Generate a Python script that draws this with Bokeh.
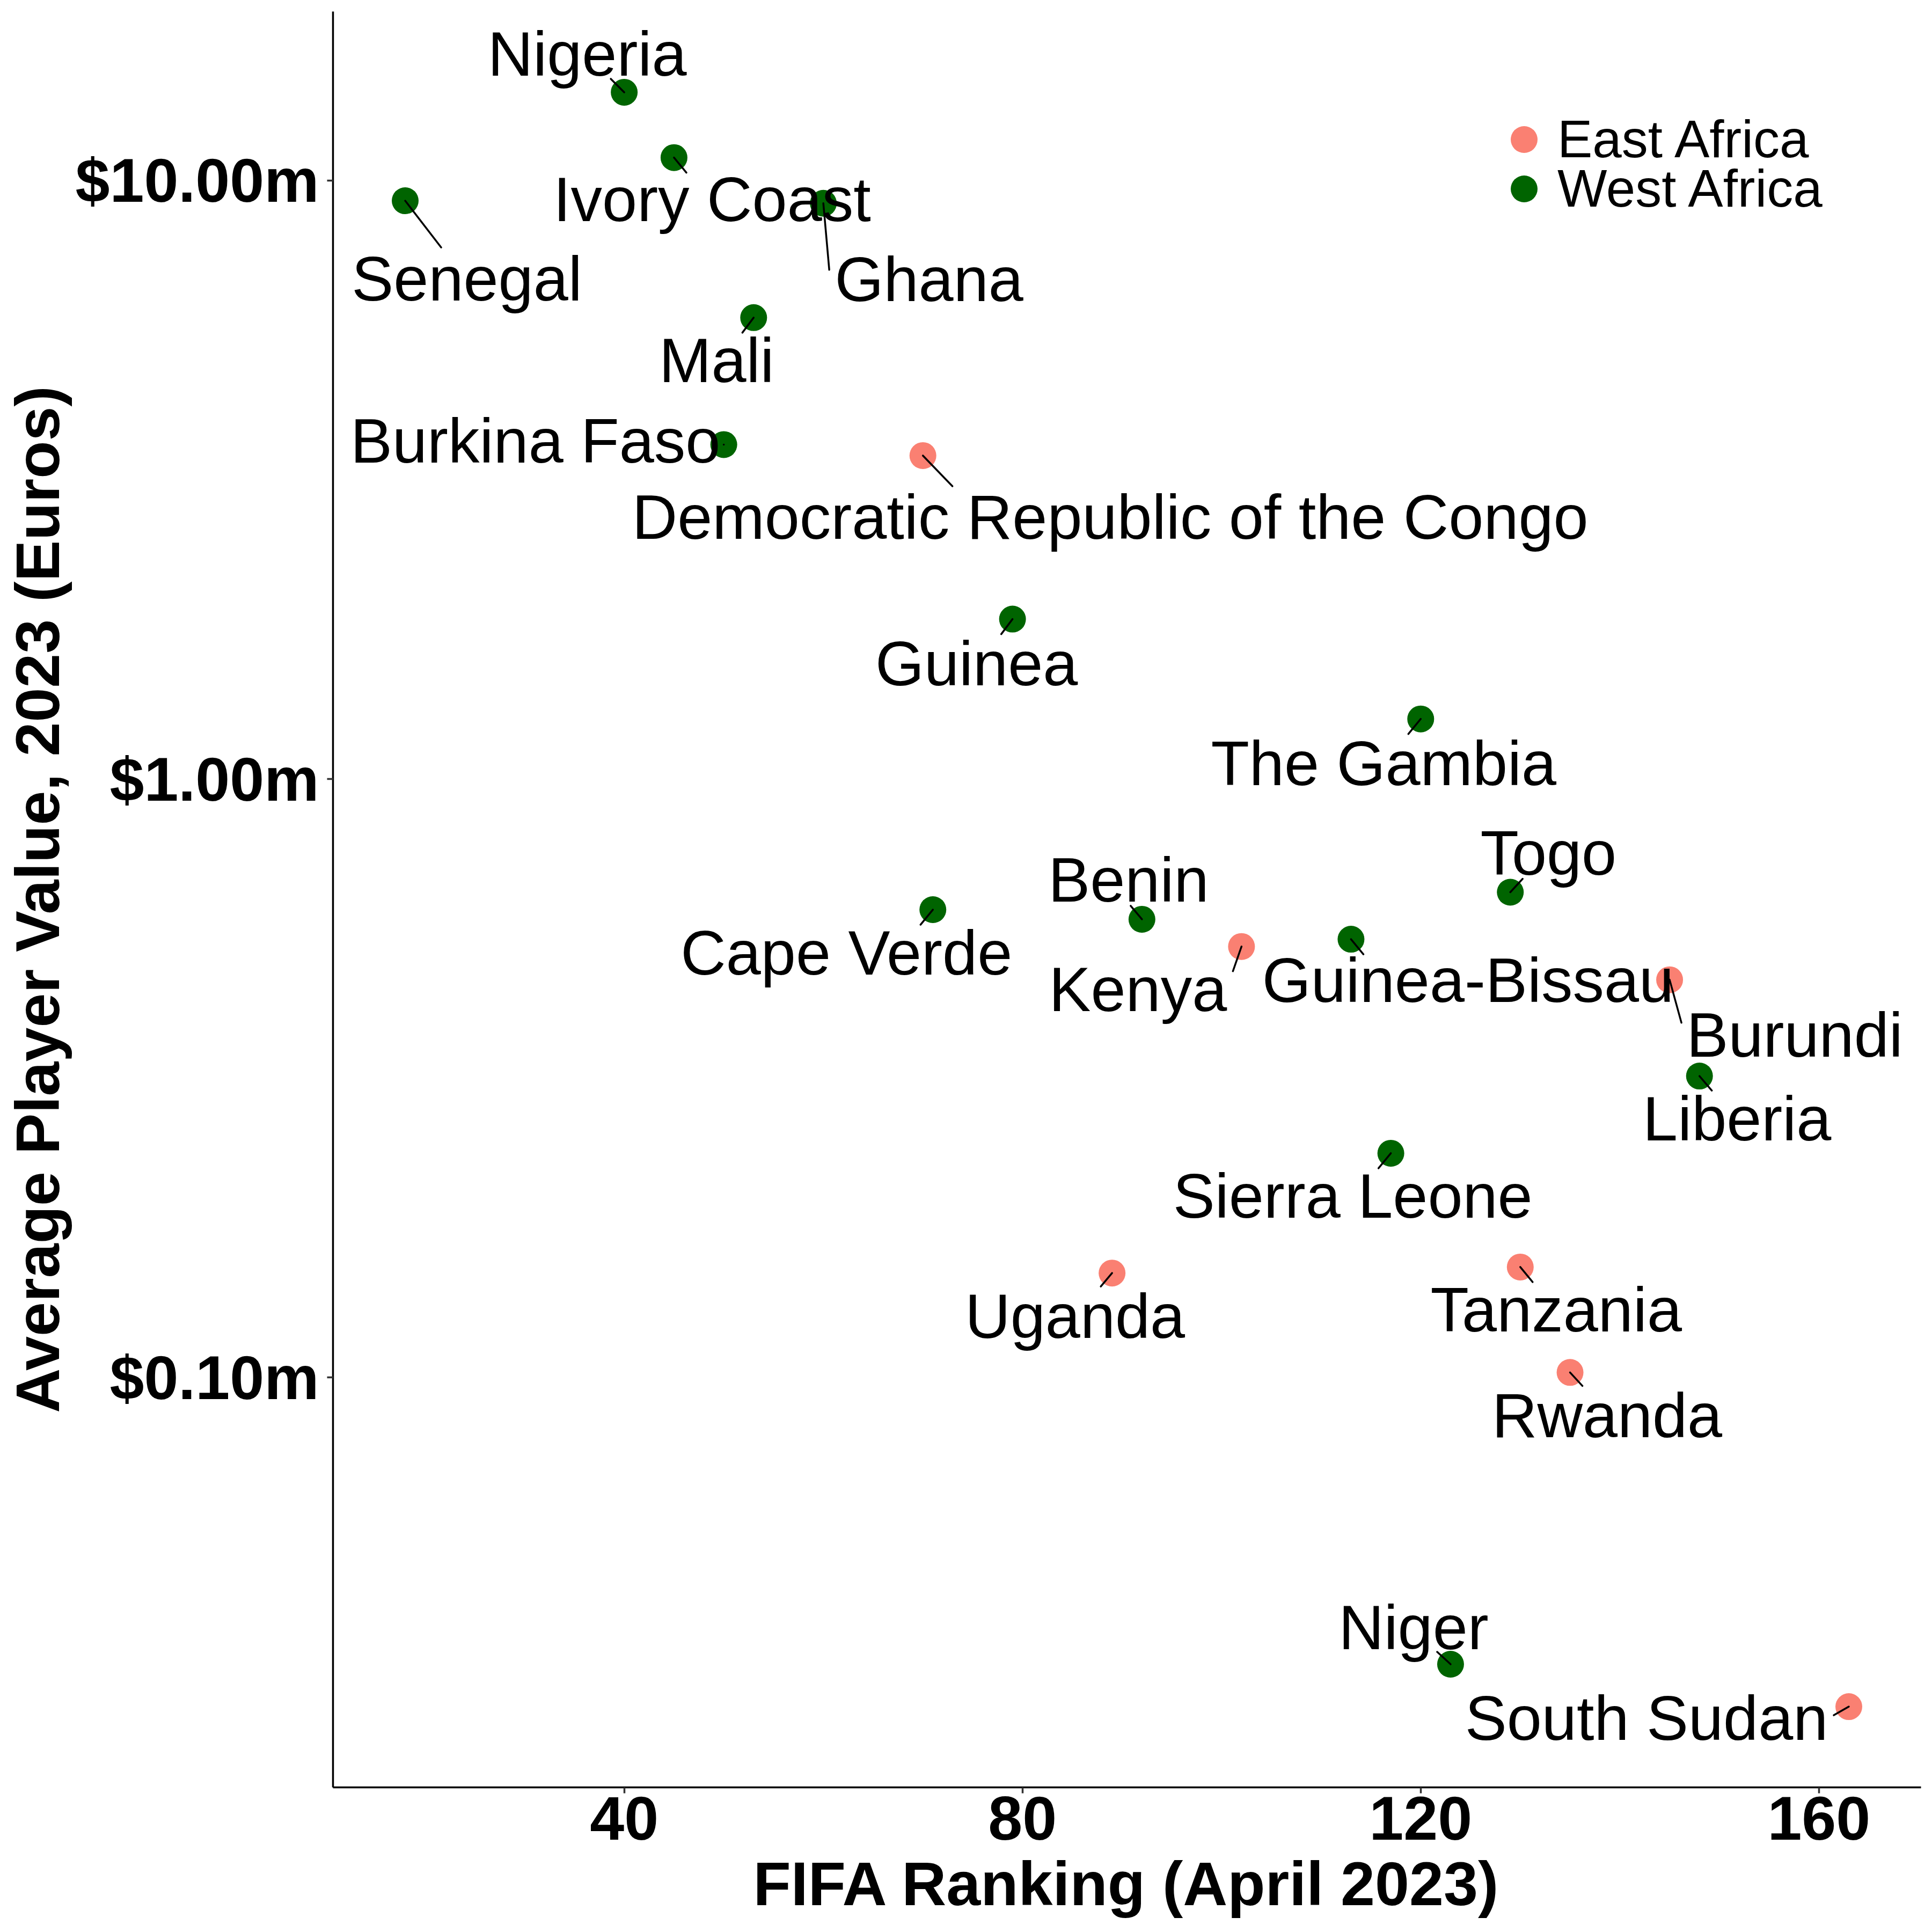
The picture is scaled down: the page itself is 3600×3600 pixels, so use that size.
import numpy as np
from bokeh.plotting import figure
from bokeh.models import (ColumnDataSource, FixedTicker, PrintfTickFormatter,
                          Range1d, Legend, LegendItem)
from bokeh.core.properties import value
from bokeh.embed import file_html
from bokeh.resources import INLINE

# ---------------- data ----------------
countries = ["Nigeria", "Ivory Coast", "Senegal", "Ghana", "Mali", "Burkina Faso",
             "Democratic Republic of the Congo", "Guinea", "The Gambia", "Togo",
             "Cape Verde", "Benin", "Kenya", "Guinea-Bissau", "Burundi", "Liberia",
             "Sierra Leone", "Uganda", "Tanzania", "Rwanda", "Niger", "South Sudan"]
regions = ["West Africa", "West Africa", "West Africa", "West Africa", "West Africa",
           "West Africa", "East Africa", "West Africa", "West Africa", "West Africa",
           "West Africa", "West Africa", "East Africa", "West Africa", "East Africa",
           "West Africa", "West Africa", "East Africa", "East Africa", "East Africa",
           "West Africa", "East Africa"]
fifa_rank = [40, 45, 18, 60, 53, 50, 70, 79, 120, 129, 71, 92, 102, 113, 145, 148,
             117, 89, 130, 135, 123, 163]
player_value_m = [14.04, 10.92, 9.25, 9.16, 5.90, 3.62, 3.47, 1.85, 1.26, 0.647,
                  0.605, 0.583, 0.525, 0.540, 0.462, 0.319, 0.237, 0.1495, 0.153,
                  0.102, 0.0332, 0.0282]
legend_labels = ["East Africa", "West Africa"]

# ---------------- label layout (screen pixels, right/down positive) ----------------
label_dx = [-69, 71, 115, 197, -69, -351, 349, -67, -69, 71, -161, -25, -193, 218,
            233, 70, -71, -69, 67, 69, -69, -377]
label_dy = [-71, 78, 145, 142, 80, -7, 115, 83, 83, -73, 80, -73, 80, 76, 103, 79,
            80, 80, 80, 80, -69, 21]
seg_dx = [-25, 23, 67, 11, -21, 0, 55, -21, -23, 23, -23, -21, -16, 23, 22, 23,
          -23, -21, 23, 23, -25, -28]
seg_dy = [-25, 28, 87, 124, 28, 0, 57, 28, 28, -25, 28, -25, 46, 28, 80, 27, 28,
          25, 28, 25, -23, 16]

colors = {"East Africa": "#FA8072", "West Africa": "#006400"}

W, H = 3600, 3600
B_LEFT, B_RIGHT, B_TOP, B_BOTTOM = 620, 21, 21, 270
FW = W - B_LEFT - B_RIGHT
FH = H - B_TOP - B_BOTTOM

x = np.array(fifa_rank, dtype=float)
y = np.array(player_value_m, dtype=float)
xpad = 0.05 * (x.max() - x.min())
x0, x1 = x.min() - xpad, x.max() + xpad
ly = np.log10(y)
lpad = 0.05 * (ly.max() - ly.min())
ly0, ly1 = ly.min() - lpad, ly.max() + lpad
pxu = FW / (x1 - x0)
pxd = FH / (ly1 - ly0)

lab_x = x + np.array(label_dx) / pxu
lab_y = 10 ** (ly - np.array(label_dy) / pxd)
sx1 = x + np.array(seg_dx) / pxu
sy1 = 10 ** (ly - np.array(seg_dy) / pxd)

FONT_NAME = "Liberation Sans"
FONT = value(FONT_NAME)

p = figure(width=W, height=H, x_range=Range1d(x0, x1), y_range=Range1d(10 ** ly0, 10 ** ly1),
           y_axis_type="log", output_backend="svg", toolbar_location=None,
           min_border_left=B_LEFT, min_border_right=B_RIGHT, min_border_top=B_TOP,
           min_border_bottom=B_BOTTOM, outline_line_color=None,
           background_fill_color="white", border_fill_color="white")

renderers = {}
for reg in legend_labels:
    idx = [i for i, r in enumerate(regions) if r == reg]
    src = ColumnDataSource(dict(x=x[idx], y=y[idx]))
    renderers[reg] = p.scatter("x", "y", source=src, size=50, fill_color=colors[reg],
                               line_color=None)

seg_src = ColumnDataSource(dict(x0=x, y0=y, x1=sx1, y1=sy1))
p.segment("x0", "y0", "x1", "y1", source=seg_src, line_color="black", line_width=3.5,
          line_cap="round")

lab_src = ColumnDataSource(dict(x=lab_x, y=lab_y, text=countries))
p.text("x", "y", text="text", source=lab_src, text_font=FONT, text_font_size="117px",
       text_align="center", text_baseline="middle", text_color="black")

# legend: one small legend per entry so rows sit close together
legend_locs = [(2157, 3008), (2157, 2916)]
for reg, loc in zip(legend_labels, legend_locs):
    lg = Legend(items=[LegendItem(label=reg, renderers=[renderers[reg]])],
                location=loc, padding=0, margin=0, spacing=0,
                glyph_width=125, glyph_height=125, label_standoff=0,
                label_text_font=FONT_NAME, label_text_font_size="98px",
                label_text_color="black",
                border_line_color=None, background_fill_alpha=0)
    p.add_layout(lg)

p.xgrid.grid_line_color = None
p.ygrid.grid_line_color = None

p.xaxis.ticker = FixedTicker(ticks=[40, 80, 120, 160], minor_ticks=[])
p.yaxis.ticker = FixedTicker(ticks=[0.1, 1, 10], minor_ticks=[])
p.yaxis.formatter = PrintfTickFormatter(format="$%.2fm")
p.xaxis.axis_label = "FIFA Ranking (April 2023)"
p.yaxis.axis_label = "Average Player Value, 2023 (Euros)"

for ax in (p.xaxis, p.yaxis):
    ax.axis_line_color = "black"
    ax.axis_line_width = 3.5
    ax.major_tick_line_color = "#333333"
    ax.major_tick_line_width = 3.5
    ax.major_tick_in = 0
    ax.major_tick_out = 11
    ax.minor_tick_in = 0
    ax.minor_tick_out = 0
    ax.major_label_text_font = FONT_NAME
    ax.major_label_text_font_size = "115px"
    ax.major_label_text_font_style = "bold"
    ax.major_label_text_color = "black"
    ax.axis_label_text_font = FONT_NAME
    ax.axis_label_text_font_size = "115px"
    ax.axis_label_text_font_style = "bold"
    ax.axis_label_text_color = "black"

p.yaxis.major_label_standoff = 15
p.xaxis.major_label_standoff = 6
p.yaxis.axis_label_standoff = 4
p.xaxis.axis_label_standoff = 15

open("out.html", "w").write(file_html(p, INLINE))
